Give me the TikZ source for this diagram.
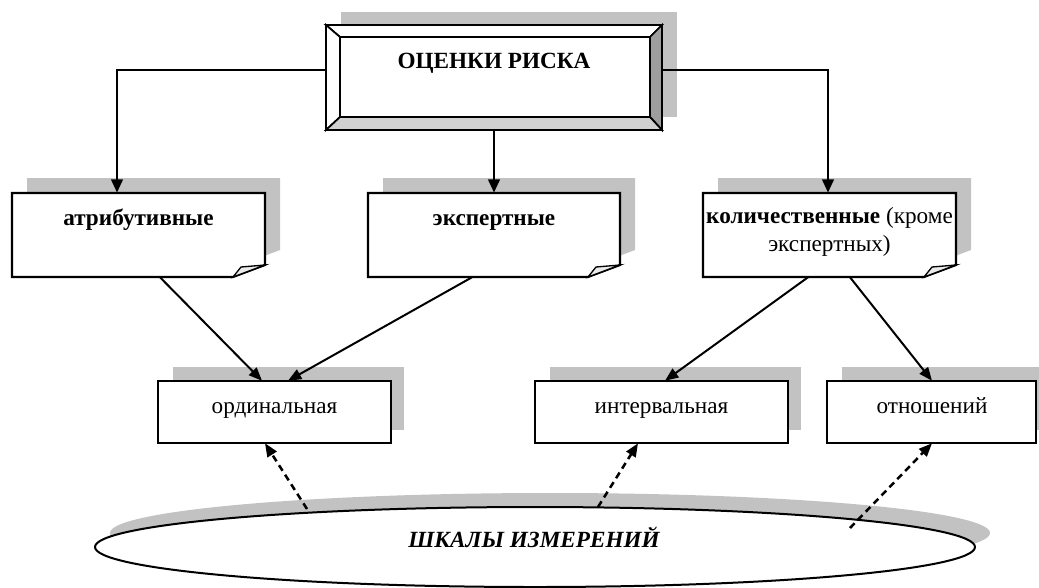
\documentclass[tikz,border=0pt]{standalone}
\usepackage{fontspec}
\setmainfont{Liberation Serif}
\usetikzlibrary{arrows.meta,calc,shapes.geometric,fit}
\definecolor{shadowc}{gray}{0.76}
\definecolor{bevdark}{gray}{0.62}
\definecolor{bevlight}{gray}{0.82}
\tikzset{
  boxline/.style={draw=black, line width=1.6pt},
  lbl/.style={anchor=base, inner sep=0pt, font=\fontsize{17.4}{20}\selectfont},
  blbl/.style={lbl, font=\fontsize{17.4}{20}\selectfont\bfseries},
  holder/.style={inner sep=0pt, draw=none},
  mainconn/.style={line width=2.2pt, -{Triangle[length=10pt,width=8.5pt]}},
  conn/.style={line width=1.5pt, -{Triangle[length=10pt,width=8pt]}},
  dconn/.style={line width=1.9pt, dash pattern=on 5pt off 3.5pt, -{Triangle[length=10pt,width=8pt]}}
}
% folded-corner box: name, x0, y0, x1, y1
\newcommand{\foldedbox}[5]{%
  \fill[shadowc] (#2+15,#3-15) -- (#4+15,#3-15) -- (#4+15,#5-27) -- (#4-17,#5-15) -- (#2+15,#5-15) -- cycle;
  \draw[boxline, fill=white, line join=miter] (#2,#3) -- (#4,#3) -- (#4,#5-12) -- (#4-32,#5) -- (#2,#5) -- cycle;
  \draw[line width=1pt, fill=black!8] (#4-32,#5) -- (#4-24,#5-10) -- (#4,#5-12) -- cycle;
  \node[holder, fit={(#2,#3) (#4,#5)}] (#1) {};
}
% plain box with shadow: name, x0, y0, x1, y1
\newcommand{\plainbox}[5]{%
  \fill[shadowc] (#2+15,#3-14) rectangle (#4+13,#5-13);
  \draw[boxline, fill=white] (#2,#3) rectangle (#4,#5);
  \node[holder, fit={(#2,#3) (#4,#5)}] (#1) {};
}
\begin{document}
\begin{tikzpicture}[x=0.75pt,y=-0.75pt]
\useasboundingbox (0,0) rectangle (1039,587);
\fill[white] (0,0) rectangle (1039,587);

% ---- top bevelled box ----
\fill[shadowc] (341,12) rectangle (677,117);
\begin{scope}[line width=1.3pt, line join=miter]
  \draw[fill=white] (326,25) -- (662,25) -- (650,37) -- (340,37) -- cycle;
  \draw[fill=white] (326,25) -- (340,37) -- (340,117) -- (326,130) -- cycle;
  \draw[fill=bevdark] (662,25) -- (662,130) -- (650,117) -- (650,37) -- cycle;
  \draw[fill=bevlight] (326,130) -- (340,117) -- (650,117) -- (662,130) -- cycle;
  \draw[fill=white] (340,37) rectangle (650,117);
  \draw[line width=1.6pt] (326,25) rectangle (662,130);
\end{scope}
\node[holder, fit={(326,25) (662,130)}] (top) {};
\node[blbl] (topT) at (494,68) {ОЦЕНКИ РИСКА};

% ---- second row ----
\foldedbox{attr}{12}{193}{265}{277}
\foldedbox{expert}{368}{193}{620}{277}
\foldedbox{quant}{703}{193}{956}{277}
\node[blbl] (attrT) at (138.5,225) {атрибутивные};
\node[blbl] (expertT) at (494,225) {экспертные};
\node[lbl] (quantT1) at (829.5,223) {\textbf{количественные} (кроме};
\node[lbl] (quantT2) at (829.5,251) {экспертных)};

% ---- third row ----
\plainbox{ord}{158}{381}{391}{443}
\plainbox{intv}{535}{381}{788}{443}
\plainbox{rel}{827}{381}{1036}{443}
\node[lbl] (ordT) at (274.5,413) {ординальная};
\node[lbl] (intvT) at (661.5,413) {интервальная};
\node[lbl] (relT) at (932,413) {отношений};

% ---- ellipse ----
\fill[shadowc] (550,533) ellipse [x radius=330pt, y radius=30pt];
\node[ellipse, draw, line width=1.5pt, fill=white, inner sep=0pt,
      minimum width=660pt, minimum height=60pt] (scale) at (535,547) {};
\node[lbl, font=\fontsize{17.4}{20}\selectfont\bfseries\itshape] (scaleT) at (534,547) {ШКАЛЫ ИЗМЕРЕНИЙ};

% ---- connectors ----
\draw[mainconn] ($(top.west)+(0,-7.5)$) -| ($(attr.north)+(-21.5,0)$);
\draw[mainconn] ($(top.east)+(0,-7.5)$) -| ($(quant.north)+(-1.5,0)$);
\draw[mainconn] (top.south) -- (expert.north);

\draw[conn] ($(attr.south)+(21.5,0)$) -- ($(ord.north)+(-12.5,0)$);
\draw[conn] ($(expert.south)+(-22,0)$) -- ($(ord.north)+(13.5,0)$);
\draw[conn] ($(quant.south)+(-21.5,0)$) -- ($(intv.north)+(3.5,0)$);
\draw[conn] ($(quant.south)+(20.5,0)$) -- ($(rel.north)+(0.5,0)$);

\coordinate (s1) at (307,509);
\coordinate (s2) at (598,507);
\coordinate (s3) at (850,528);
\draw[dconn] (s1) -- ($(ord.south)+(-9.5,0)$);
\draw[dconn] (s2) -- ($(intv.south)+(-23.5,0)$);
\draw[dconn] (s3) -- ($(rel.south)+(0.5,0)$);
\end{tikzpicture}
\end{document}
